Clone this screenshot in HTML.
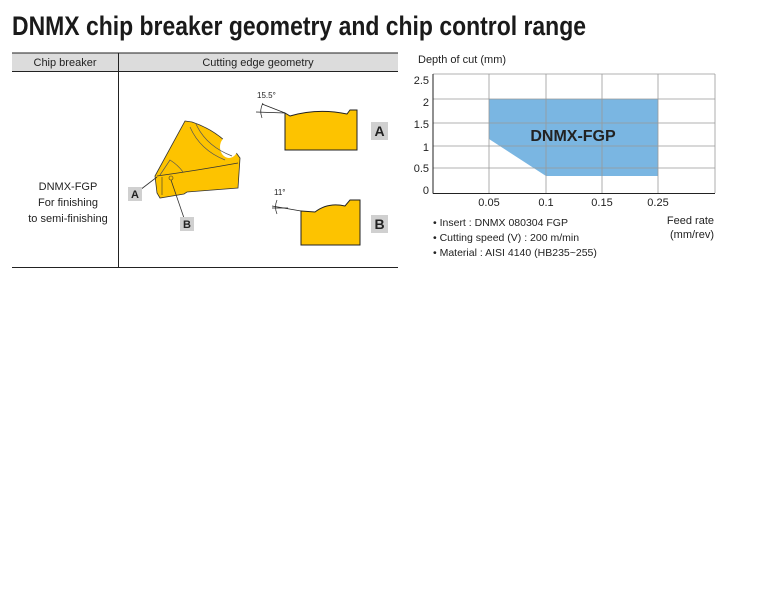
<!DOCTYPE html>
<html><head><meta charset="utf-8"><style>
body{margin:0;background:#fff;width:765px;height:600px;overflow:hidden}
svg{display:block}
text{font-family:"Liberation Sans",sans-serif}
</style></head><body>
<svg width="765" height="600" viewBox="0 0 765 600">
<text x="12" y="35" font-size="27" font-weight="bold" fill="#1a1a1a" textLength="574" lengthAdjust="spacingAndGlyphs">DNMX chip breaker geometry and chip control range</text>
<!-- table -->
<rect x="12" y="53" width="386" height="18" fill="#dcdcdc"/>
<line x1="12" y1="53" x2="398" y2="53" stroke="#222" stroke-width="1"/>
<line x1="12" y1="71.5" x2="398" y2="71.5" stroke="#222" stroke-width="1"/>
<line x1="12" y1="267.5" x2="398" y2="267.5" stroke="#222" stroke-width="1"/>
<line x1="118.5" y1="53" x2="118.5" y2="267" stroke="#222" stroke-width="1"/>
<text x="65" y="66" font-size="11" text-anchor="middle" fill="#222">Chip breaker</text>
<text x="258" y="66" font-size="11" text-anchor="middle" fill="#222">Cutting edge geometry</text>
<text x="68" y="190" font-size="11" text-anchor="middle" fill="#222">DNMX-FGP</text>
<text x="68" y="206" font-size="11" text-anchor="middle" fill="#222">For finishing</text>
<text x="68" y="222" font-size="11" text-anchor="middle" fill="#222">to semi-finishing</text>
<!-- insert -->
<path d="M185,121 L192,122 Q222,132 240,158 L238,188 L187,192 L184,194 L160,198 L157,193 L155,176 Z" fill="#fdc300" stroke="#333" stroke-width="0.8"/>
<ellipse cx="229" cy="147" rx="9" ry="11" fill="#fff"/>
<path d="M157,176 Q200,170 238,163" fill="none" stroke="#333" stroke-width="0.8"/>
<path d="M190,127 Q200,150 225,160 M196,124 Q206,146 232,156" fill="none" stroke="#555" stroke-width="0.7"/>
<path d="M160,175 L170,160 Q178,165 183,172" fill="none" stroke="#555" stroke-width="0.7"/>
<line x1="162" y1="195" x2="162" y2="177" stroke="#333" stroke-width="0.6"/>
<circle cx="171" cy="178" r="2" fill="none" stroke="#333" stroke-width="0.6"/>
<line x1="157" y1="177" x2="140" y2="190" stroke="#333" stroke-width="0.8"/>
<line x1="171" y1="180" x2="184" y2="218" stroke="#333" stroke-width="0.8"/>
<rect x="128" y="187" width="14" height="14" fill="#d0d0d0"/>
<text x="135" y="198" font-size="11" font-weight="bold" text-anchor="middle" fill="#222">A</text>
<rect x="180" y="217" width="14" height="14" fill="#d0d0d0"/>
<text x="187" y="228" font-size="11" font-weight="bold" text-anchor="middle" fill="#222">B</text>
<!-- profile A -->
<path d="M285,113 L290,116 Q318,108 347,114 L350,110 L357,110 L357,150 L285,150 Z" fill="#fdc300" stroke="#222" stroke-width="1"/>
<line x1="256" y1="112" x2="285" y2="113" stroke="#222" stroke-width="0.8"/>
<line x1="262" y1="104" x2="285" y2="113" stroke="#222" stroke-width="0.8"/>
<path d="M263,103 Q259,110 262,118" fill="none" stroke="#222" stroke-width="0.7"/>
<text x="257" y="98" font-size="8" fill="#222">15.5°</text>
<rect x="371" y="122" width="17" height="18" fill="#d0d0d0"/>
<text x="379.5" y="136" font-size="14" font-weight="bold" text-anchor="middle" fill="#222">A</text>
<!-- profile B -->
<path d="M301,211 L315,212 Q328,202 345,206 L350,200 L360,200 L360,245 L301,245 Z" fill="#fdc300" stroke="#222" stroke-width="1"/>
<line x1="272" y1="206" x2="301" y2="211" stroke="#222" stroke-width="0.8"/>
<line x1="273" y1="206" x2="301" y2="206" stroke="#222" stroke-width="0"/>
<line x1="272" y1="208" x2="288" y2="208" stroke="#222" stroke-width="0.8"/>
<path d="M277,200 Q274,207 277,214" fill="none" stroke="#222" stroke-width="0.7"/>
<text x="274" y="195" font-size="8" fill="#222">11°</text>
<rect x="371" y="215" width="17" height="18" fill="#d0d0d0"/>
<text x="379.5" y="229" font-size="14" font-weight="bold" text-anchor="middle" fill="#222">B</text>
<!-- chart -->
<text x="418" y="63" font-size="11" fill="#222">Depth of cut (mm)</text>
<polygon points="489,99 658,99 658,176 546,176 489,139" fill="#7ab6e2"/>
<g stroke="#999" stroke-width="0.8">
<line x1="433" y1="74" x2="715" y2="74"/>
<line x1="433" y1="99" x2="715" y2="99"/>
<line x1="433" y1="123" x2="715" y2="123"/>
<line x1="433" y1="146" x2="715" y2="146"/>
<line x1="433" y1="168" x2="715" y2="168"/>
<line x1="489" y1="74" x2="489" y2="193"/>
<line x1="546" y1="74" x2="546" y2="193"/>
<line x1="602" y1="74" x2="602" y2="193"/>
<line x1="658" y1="74" x2="658" y2="193"/>
<line x1="715" y1="74" x2="715" y2="193"/>
</g>
<line x1="433" y1="74" x2="433" y2="193.5" stroke="#222" stroke-width="1"/>
<line x1="433" y1="193.5" x2="715" y2="193.5" stroke="#222" stroke-width="1"/>
<text x="573" y="141" font-size="16" font-weight="bold" text-anchor="middle" fill="#222">DNMX-FGP</text>
<g font-size="11" fill="#222" text-anchor="end">
<text x="429" y="84">2.5</text><text x="429" y="106">2</text><text x="429" y="128">1.5</text>
<text x="429" y="151">1</text><text x="429" y="172">0.5</text><text x="429" y="194">0</text>
</g>
<g font-size="11" fill="#222" text-anchor="middle">
<text x="489" y="206">0.05</text><text x="546" y="206">0.1</text><text x="602" y="206">0.15</text><text x="658" y="206">0.25</text>
</g>
<g font-size="11" fill="#222" text-anchor="end">
<text x="714" y="224">Feed rate</text><text x="714" y="238">(mm/rev)</text>
</g>
<g font-size="10.5" fill="#222">
<text x="433" y="226">• Insert : DNMX 080304 FGP</text>
<text x="433" y="241">• Cutting speed (V) : 200 m/min</text>
<text x="433" y="256">• Material : AISI 4140 (HB235~255)</text>
</g>
</svg>
</body></html>
